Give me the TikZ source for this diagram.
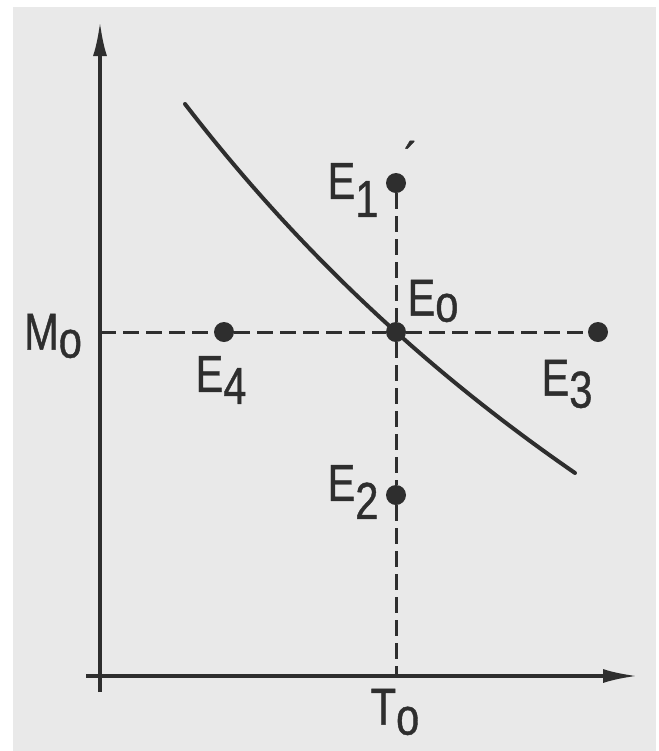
\documentclass[tikz,border=0pt]{standalone}
\usepackage{fontspec}
\setmainfont[FakeStretch=0.8,FakeBold=0.8]{Liberation Sans}
\usepackage{xcolor}
\usetikzlibrary{arrows.meta,positioning}
\definecolor{inkx}{HTML}{2E2E2E}
\definecolor{paperx}{HTML}{E9E9E9}
\tikzset{
  axis/.style={-{Latex[length=17pt,width=7pt]},line width=1.7pt,inkx},
  guide/.style={dash pattern=on 8pt off 3.5pt,line width=1.5pt,inkx},
  dot/.style={circle,fill=inkx,inner sep=0pt,minimum size=10pt},
  lbl/.style={font=\fontsize{26}{28}\selectfont,text=inkx,inner sep=1pt}
}
\newcommand{\lowsub}[2][6pt]{\raisebox{-#1}{#2}}
\begin{document}
\begin{tikzpicture}[x=0.5pt,y=-0.5pt]
\useasboundingbox (0,0) rectangle (659,751);
\fill[white] (0,0) rectangle (659,751);
\fill[paperx] (13,7) rectangle (656,751);
% axes
\coordinate (ybot) at (100,692);
\coordinate (ytop) at (100,22);
\coordinate (xleft) at (86,676);
\coordinate (xright) at (637,676);
\coordinate (mzero) at (100,332);
\coordinate (tzero) at (396,676);
\draw[axis] (ybot) -- (ytop);
\draw[axis] (xleft) -- (xright);
% points
\node[dot] (e0) at (396,332) {};
\node[dot] (e1) at (396,183) {};
\node[dot] (e2) at (396,495) {};
\node[dot] (e3) at (598,332) {};
\node[dot] (e4) at (224,332) {};
\draw[guide] (mzero) -- (e4) -- (e0) -- (e3);
\draw[guide] (e1) -- (e0) -- (e2) -- (tzero);
% curve
\draw[line width=2pt,inkx,line cap=round] plot[domain=185:575,samples=60]
  (\x,{1465.5-1428.231/((\x+864)/1000)});
% labels
\node[lbl] (lm) at (53,336) {M\lowsub[4pt]{o}};
\node[lbl] (lt) at (395,712) {T\lowsub[5pt]{o}};
\node[lbl] (l0) at (433,301) {E\lowsub[3pt]{o}};
\node[lbl] (l1) at (353,190) {E\lowsub[9pt]{1}};
\node[lbl] (l2) at (353,492) {E\lowsub[9pt]{2}};
\node[lbl] (l3) at (567,384) {E\lowsub[6pt]{3}};
\node[lbl] (l4) at (221,380) {E\lowsub[6pt]{4}};
\node[lbl] (tick) at (411,160) {´};
\end{tikzpicture}
\end{document}
